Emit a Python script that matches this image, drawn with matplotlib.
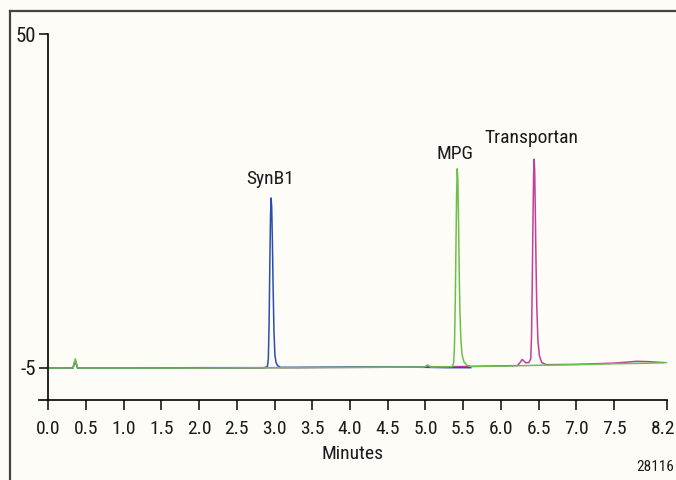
import matplotlib.pyplot as plt
from matplotlib.lines import Line2D
from matplotlib.transforms import ScaledTranslation

# Traces (time in minutes, signal)
synb1_t = [0.0, 0.33, 0.36, 0.39, 1.0, 2.0, 2.86, 2.905, 2.918, 2.928, 2.938, 2.947, 2.955, 2.963, 2.972,
           2.982, 2.993, 3.005, 3.02, 3.04, 3.08, 3.3, 4.0, 4.8, 5.3, 5.6]
synb1_y = [-5.0, -5.0, -3.7, -5.0, -5.0, -4.95, -4.95, -4.8, -3.5, 2.0, 12.0, 20.0, 23.0, 21.5, 16.0,
           8.0, 1.0, -2.8, -4.1, -4.6, -4.9, -4.9, -4.85, -4.85, -4.95, -4.95]

mpg_t = [0.0, 0.33, 0.36, 0.39, 1.0, 2.0, 3.0, 4.0, 4.98, 5.03, 5.07, 5.30, 5.36, 5.375, 5.385, 5.395,
         5.405, 5.413, 5.421, 5.429, 5.437, 5.447, 5.457, 5.47, 5.485, 5.51, 5.55, 5.60, 6.0, 6.5, 7.0,
         7.5, 8.0, 8.2]
mpg_y = [-5.0, -5.0, -3.5, -5.0, -5.0, -5.0, -4.95, -4.9, -4.85, -4.5, -4.85, -4.8, -4.75, -4.0, -1.0, 6.0,
         16.0, 24.0, 27.8, 26.0, 20.0, 11.0, 4.0, -0.5, -2.8, -4.0, -4.55, -4.75, -4.7, -4.55, -4.45,
         -4.3, -4.2, -4.1]

transportan_t = [0.0, 0.33, 0.36, 0.39, 1.0, 2.0, 3.0, 4.0, 5.0, 5.8, 6.22, 6.26, 6.28, 6.30, 6.33, 6.37,
                 6.395, 6.405, 6.415, 6.425, 6.433, 6.44, 6.447, 6.455, 6.465, 6.475, 6.49, 6.51, 6.54,
                 6.6, 7.0, 7.5, 7.8, 7.95, 8.15]
transportan_y = [-5.0, -5.0, -3.8, -5.0, -5.0, -5.0, -4.95, -4.9, -4.85, -4.7, -4.6, -4.0, -3.6, -3.8, -4.15,
                 -4.1, -3.5, 0.0, 9.0, 20.0, 27.0, 29.4, 27.5, 21.0, 12.0, 5.0, -0.5, -3.0, -4.1,
                 -4.45, -4.4, -4.2, -3.9, -3.95, -4.1]

peak_names = ['SynB1', 'MPG', 'Transportan']
label_x = [2.94, 5.39, 6.41]
label_y = [24.6, 28.75, 31.4]

x_ticks = [0.0, 0.5, 1.0, 1.5, 2.0, 2.5, 3.0, 3.5, 4.0, 4.5, 5.0, 5.5, 6.0, 6.5, 7.0, 7.5, 8.2]
y_ticks = [50, -5]

plt.rcParams['font.family'] = ['Roboto Condensed', 'DejaVu Sans']

bg = '#fdfcf6'
ink = '#1a1a1a'
fig = plt.figure(figsize=(6.76, 4.8), dpi=100, facecolor=bg)
ax = fig.add_axes([39 / 676, 1 - 400 / 480, 628 / 676, 366 / 480], facecolor=bg)

ax.plot(transportan_t, transportan_y, color='#c13f9f', lw=1.1)
ax.plot(synb1_t, synb1_y, color='#2d4db3', lw=1.1)
ax.plot(mpg_t, mpg_y, color='#6cc04a', lw=1.1)

for name, tx, ty in zip(peak_names, label_x, label_y):
    ax.text(tx, ty, name, ha='center', va='bottom', fontsize=14, color=ink)

ax.set_xlim(-0.12, 8.2)
ax.set_ylim(-10.27, 50)

ax.spines['top'].set_visible(False)
ax.spines['right'].set_visible(False)
ax.spines['left'].set_position(('data', 0))
for s in ('left', 'bottom'):
    ax.spines[s].set_linewidth(1.2)

ax.set_xticks(x_ticks)
ax.set_xticklabels([f'{v:.1f}' for v in x_ticks])
ax.set_yticks(y_ticks)
ax.set_yticklabels([str(v) for v in y_ticks])
ax.tick_params(axis='x', direction='out', length=7.5, width=1.2, pad=7, labelsize=14, colors=ink)
ax.tick_params(axis='y', direction='out', length=6.5, width=1.2, pad=2, labelsize=15, colors=ink)

# last label sits against the right edge, nudge it in a little
last = ax.get_xticklabels()[-1]
last.set_transform(last.get_transform() + ScaledTranslation(-0.04, 0, fig.dpi_scale_trans))

ax.set_xlabel('Minutes', fontsize=14, color=ink, labelpad=5)

fig.text(655 / 676, 1 - 467 / 480, '28116', ha='center', va='center', fontsize=11, color=ink)

# frame lines along top and left of the image
fig.add_artist(Line2D([10 / 676, 1], [1 - 11 / 480, 1 - 11 / 480], color='#444444', lw=1.6, transform=fig.transFigure))
fig.add_artist(Line2D([10 / 676, 10 / 676], [0, 1 - 11 / 480], color='#444444', lw=1.6, transform=fig.transFigure))

fig.savefig('out.png', dpi=100, facecolor=bg)
